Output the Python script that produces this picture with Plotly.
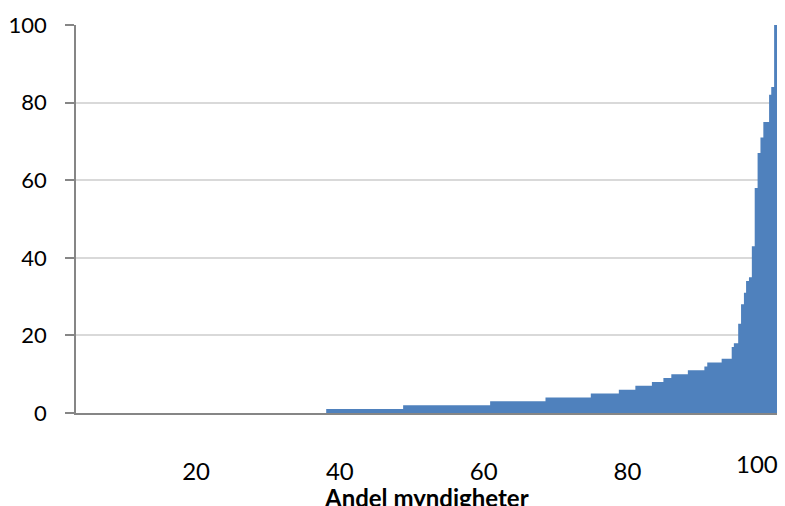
import plotly.graph_objects as go

# Share of agencies (x, %) where each step starts, and the value of that step
step_start = [3.3, 38.1, 48.8, 60.9, 68.6, 74.9, 78.8, 81.1, 83.4, 85.0, 86.1,
              88.4, 90.7, 91.1, 93.1, 94.5, 94.8, 95.4, 95.8, 96.2, 96.5, 96.9,
              97.3, 97.7, 98.1, 98.5, 98.9, 99.7, 100.0, 100.4]
step_value = [0, 1, 2, 3, 4, 5, 6, 7, 8, 9, 10, 11, 12, 13, 14, 17, 18, 23, 28,
              31, 34, 35, 43, 58, 67, 71, 75, 82, 84, 100]
x_end = 100.8

x_ticks = [20, 40, 60, 80]
x_tick_labels = ["20", "40", "60", "80"]
last_x_label = "100"
y_ticks = [0, 20, 40, 60, 80, 100]
x_title = "Andel myndigheter"

xs = step_start + [x_end]
ys = step_value + [step_value[-1]]

fig = go.Figure()
fig.add_trace(go.Scatter(
    x=xs, y=ys, mode="lines", line=dict(shape="hv", width=0, color="#4F81BD"),
    fill="tozeroy", fillcolor="#4F81BD", hoverinfo="skip", showlegend=False,
))

FONT = "Lato, Carlito, Calibri, sans-serif"

fig.update_layout(
    width=785, height=506,
    margin=dict(l=76, r=8, t=25, b=93),
    paper_bgcolor="white", plot_bgcolor="white",
    font=dict(family=FONT, color="#000000"),
    xaxis=dict(
        range=[step_start[0], x_end], tickvals=x_ticks, ticktext=x_tick_labels,
        showgrid=False, zeroline=False, showline=True, linecolor="#868686",
        linewidth=1.5, ticks="", tickfont=dict(size=24, family=FONT),
        ticklabelstandoff=36,
    ),
    yaxis=dict(
        range=[0, 100], tickvals=y_ticks, showgrid=True, gridcolor="#D9D9D9",
        gridwidth=1.5, zeroline=False, showline=True, linecolor="#868686",
        linewidth=1.5, ticks="outside", ticklen=9, tickcolor="#868686",
        tickwidth=1.5, tickfont=dict(size=22, family=FONT),
        ticklabelstandoff=14,
    ),
    annotations=[
        dict(text=last_x_label, xref="paper", yref="paper", x=1, y=0,
             xanchor="right", yanchor="top", xshift=3, yshift=-34,
             showarrow=False, font=dict(size=24, family=FONT)),
        dict(text="<b>" + x_title + "</b>", xref="paper", yref="paper", x=0.5, y=0,
             xanchor="center", yanchor="top", yshift=-68,
             showarrow=False, font=dict(size=24, family=FONT)),
    ],
)

# remove the browser's default page margin so the figure starts at the top-left corner
fig.write_html(
    "out.html",
    config={"displayModeBar": False},
    post_script="document.body.style.margin='0';document.body.style.overflow='hidden';",
)
